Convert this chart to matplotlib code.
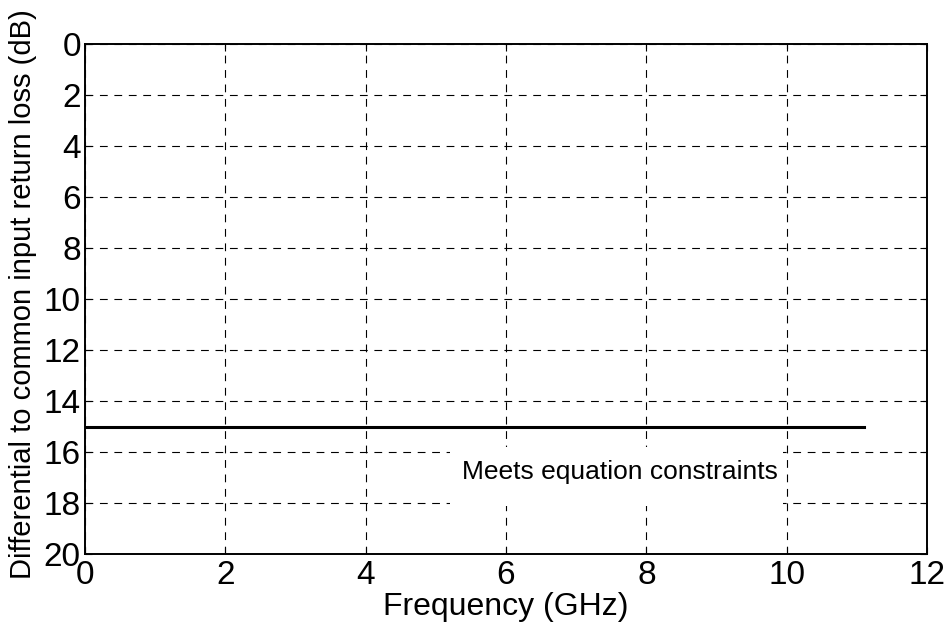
import matplotlib
matplotlib.use("Agg")
import matplotlib.pyplot as plt
from matplotlib.patches import Rectangle

plt.rcParams['font.family'] = ['Liberation Sans', 'DejaVu Sans']

freq = [0.0, 11.1]
limit = [15.0, 15.0]
xticks = [0, 2, 4, 6, 8, 10, 12]
yticks = [0, 2, 4, 6, 8, 10, 12, 14, 16, 18, 20]
label_text = "Meets equation constraints"

fig = plt.figure(figsize=(9.47, 6.28), dpi=100)
ax = fig.add_axes([85/947, 1-554/628, (927-85)/947, (554-44)/628])
ax.plot(freq, limit, color='black', linewidth=2.2, zorder=3)
ax.set_xlim(0, 12)
ax.set_ylim(20, 0)
ax.set_xticks(xticks)
ax.set_yticks(yticks)
ax.grid(True, color='black', linestyle=(0, (7, 6)), linewidth=0.8)
ax.tick_params(direction='in', length=5, labelsize=24, pad=3,
               top=True, right=True)
ax.tick_params(axis='x', pad=4.5)
for s in ax.spines.values():
    s.set_linewidth(1.4)
ax.set_xlabel("Frequency (GHz)", fontsize=23)
ax.xaxis.set_label_coords(0.5, -0.074)
ax.set_ylabel("Differential to common input return loss (dB)", fontsize=21)
ax.yaxis.set_label_coords(-0.057, 0.51)

# white background behind the annotation (hides the grid there)
ax.add_patch(Rectangle((5.2, 15.8), 4.75, 2.3, facecolor='white',
                       edgecolor='none', zorder=2))
ax.text(7.62, 16.78, label_text, fontsize=19, ha='center', va='center', zorder=4)
fig.savefig("out.png", dpi=100)
